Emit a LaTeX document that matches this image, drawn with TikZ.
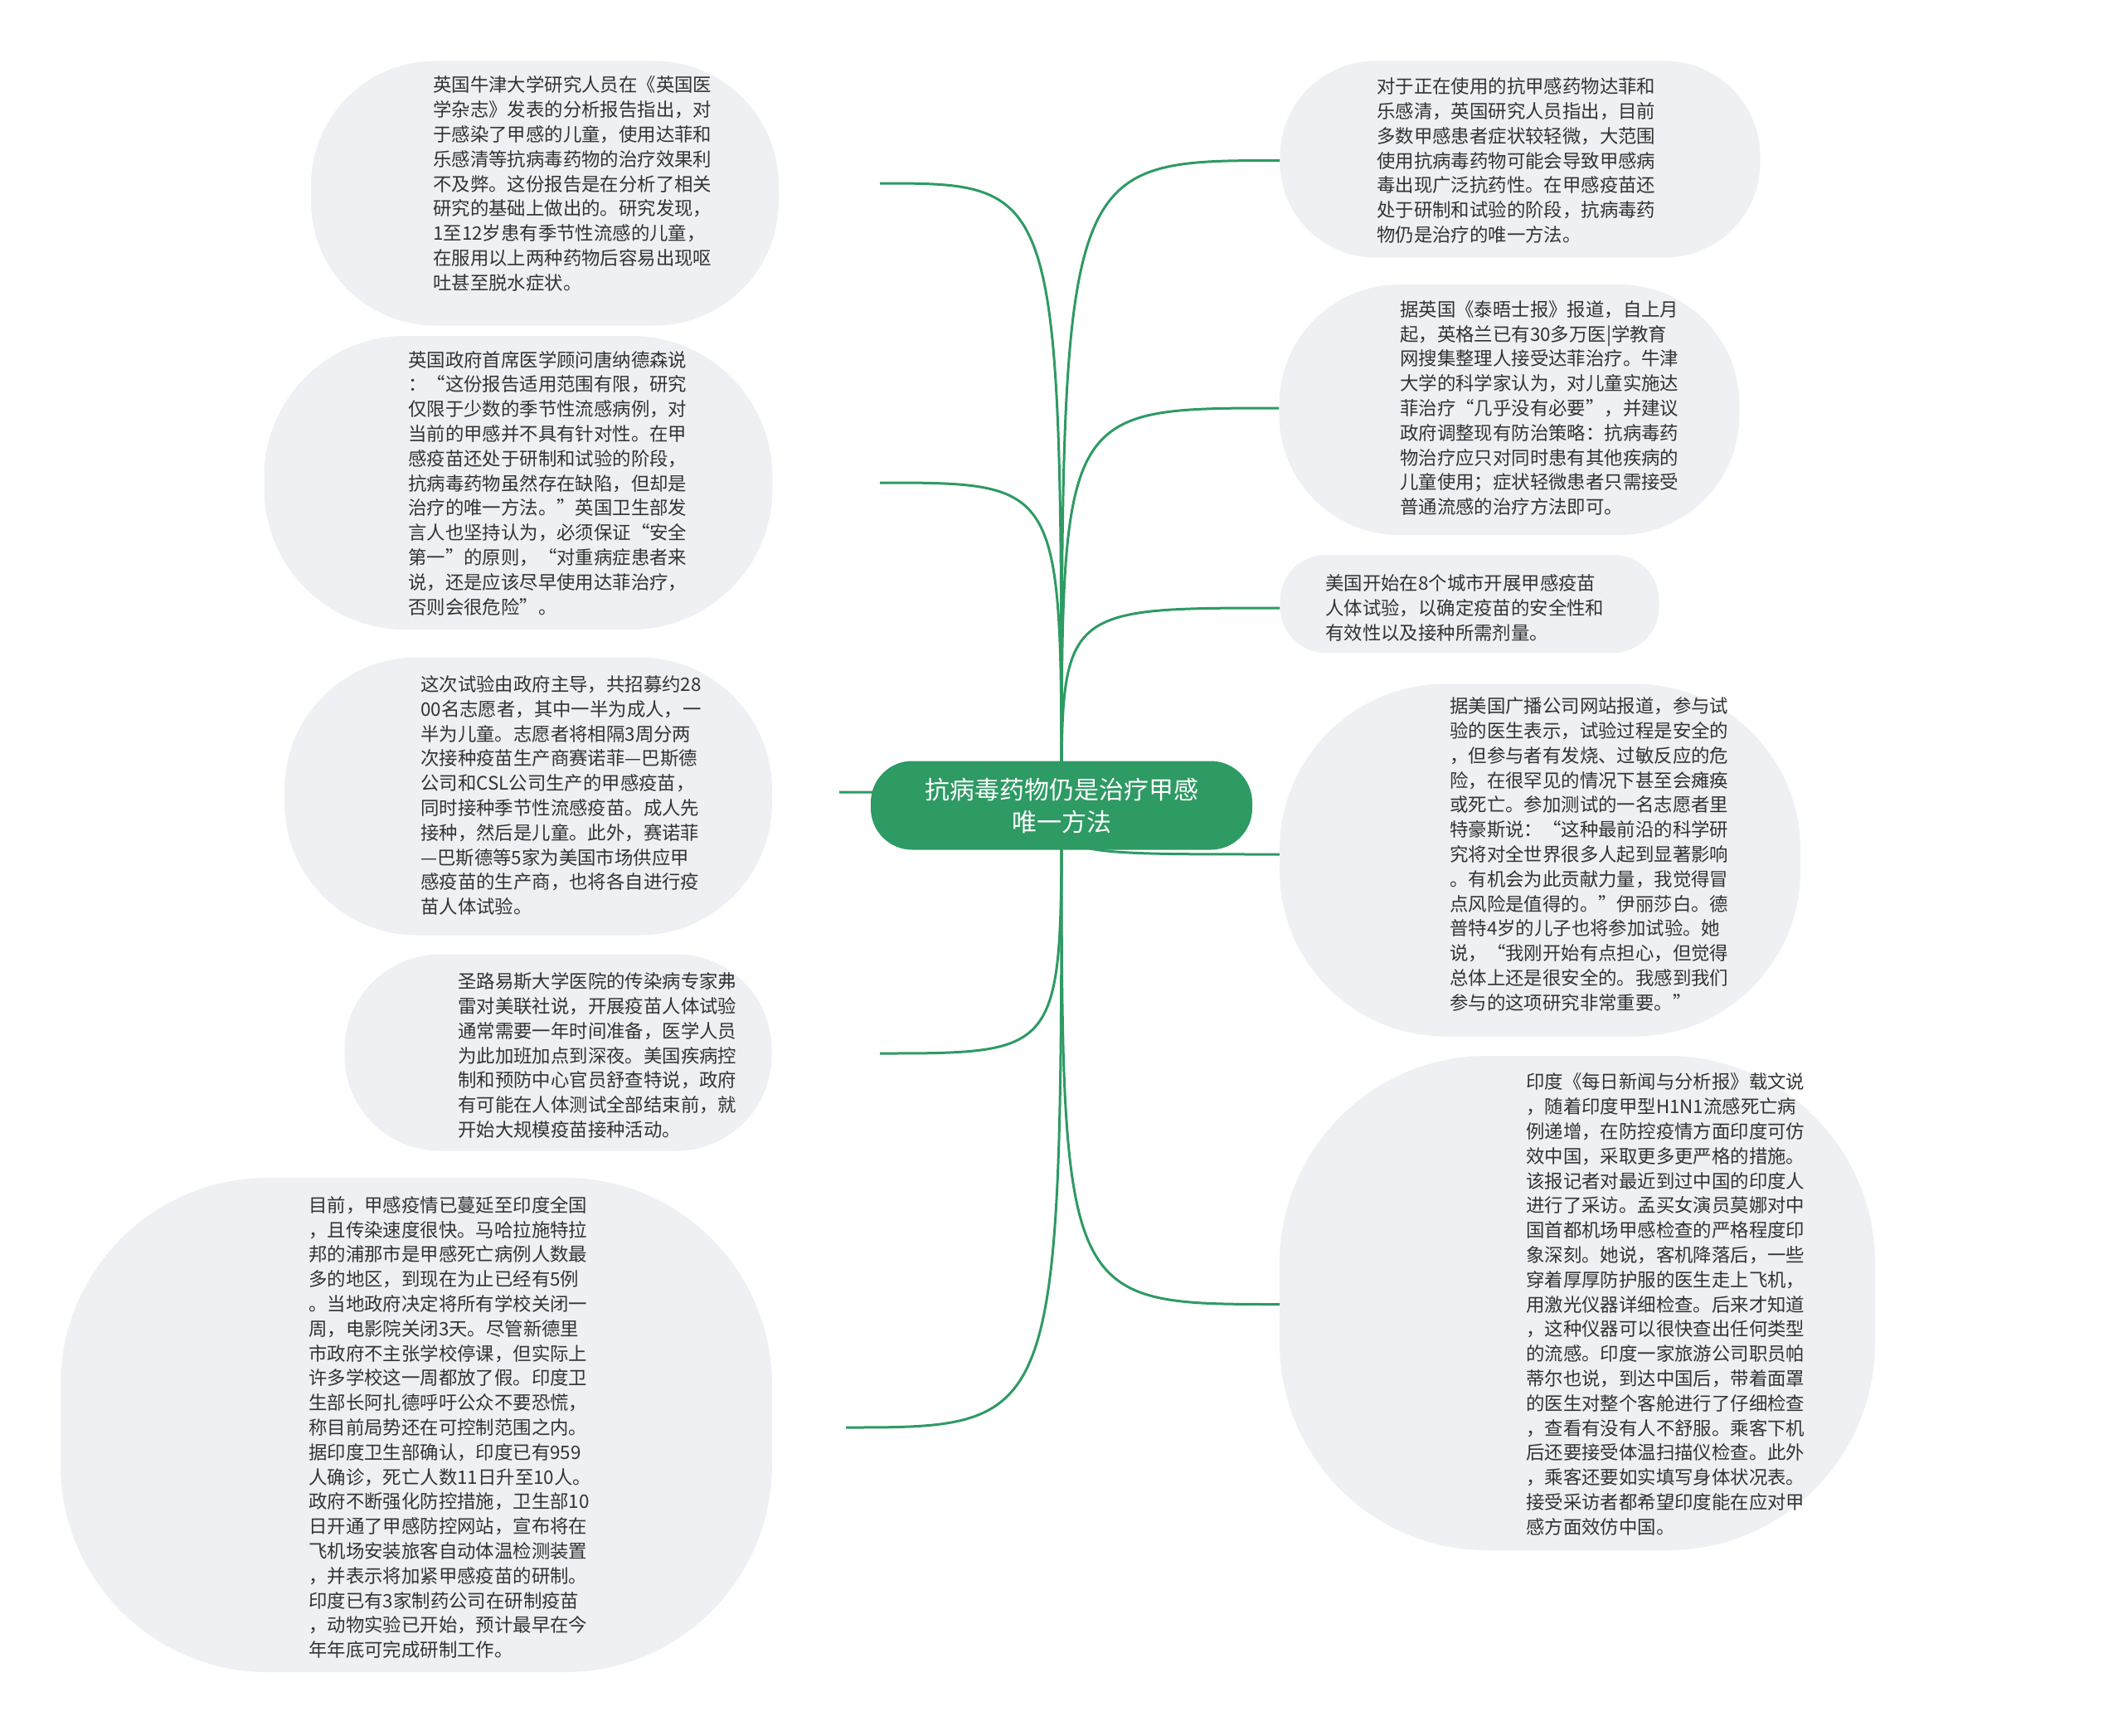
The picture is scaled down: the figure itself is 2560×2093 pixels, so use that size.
\documentclass[tikz,border=0pt]{standalone}
\usepackage{fontspec}
\setmainfont{Noto Sans CJK SC}
\usetikzlibrary{backgrounds}
\definecolor{rootgreen}{HTML}{2E9A64}
\definecolor{leafgray}{HTML}{EEF0F3}
\definecolor{leaftext}{HTML}{333333}
\tikzset{
	root/.style={fill=rootgreen, text=white, rounded corners=50pt, minimum width=460pt, minimum height=107pt, align=center, font=\fontsize{30}{39}\selectfont},
	leaf/.style={fill=leafgray, inner sep=0pt},
	leaftext/.style={anchor=west, text=leaftext, align=left, inner sep=0pt, font=\fontsize{22.4}{29.8}\selectfont},
	link/.style={draw=rootgreen, line width=3pt},
}
\begin{document}
\begin{tikzpicture}[x=1pt,y=-1pt]
	\useasboundingbox (0,0) rectangle (2560,2093);
	\node[root] (root) at (1280,971) {抗病毒药物仍是治疗甲感\\唯一方法};
	
	% left side
	\node[leaf, minimum width=564pt, minimum height=319pt, rounded corners=150pt] (L1) at (657,233) {};
	\node[leaftext] (L1t) at (522,221.5) {英国牛津大学研究人员在《英国医\\学杂志》发表的分析报告指出，对\\于感染了甲感的儿童，使用达菲和\\乐感清等抗病毒药物的治疗效果利\\不及弊。这份报告是在分析了相关\\研究的基础上做出的。研究发现，\\1至12岁患有季节性流感的儿童，\\在服用以上两种药物后容易出现呕\\吐甚至脱水症状。};
	\node[leaf, minimum width=613pt, minimum height=354pt, rounded corners=170pt] (L2) at (625,582) {};
	\node[leaftext] (L2t) at (492,582.5) {英国政府首席医学顾问唐纳德森说\\：“这份报告适用范围有限，研究\\仅限于少数的季节性流感病例，对\\当前的甲感并不具有针对性。在甲\\感疫苗还处于研制和试验的阶段，\\抗病毒药物虽然存在缺陷，但却是\\治疗的唯一方法。”英国卫生部发\\言人也坚持认为，必须保证“安全\\第一”的原则，“对重病症患者来\\说，还是应该尽早使用达菲治疗，\\否则会很危险”。};
	\node[leaf, minimum width=588pt, minimum height=335pt, rounded corners=160pt] (L3) at (637,960) {};
	\node[leaftext] (L3t) at (507,959) {这次试验由政府主导，共招募约28\\00名志愿者，其中一半为成人，一\\半为儿童。志愿者将相隔3周分两\\次接种疫苗生产商赛诺菲—巴斯德\\公司和CSL公司生产的甲感疫苗，\\同时接种季节性流感疫苗。成人先\\接种，然后是儿童。此外，赛诺菲\\—巴斯德等5家为美国市场供应甲\\感疫苗的生产商，也将各自进行疫\\苗人体试验。};
	\node[leaf, minimum width=515pt, minimum height=237pt, rounded corners=115pt] (L4) at (673,1269) {};
	\node[leaftext] (L4t) at (552,1272.5) {圣路易斯大学医院的传染病专家弗\\雷对美联社说，开展疫苗人体试验\\通常需要一年时间准备，医学人员\\为此加班加点到深夜。美国疾病控\\制和预防中心官员舒查特说，政府\\有可能在人体测试全部结束前，就\\开始大规模疫苗接种活动。};
	\node[leaf, minimum width=858pt, minimum height=596pt, rounded corners=250pt] (L5) at (502,1718) {};
	\node[leaftext] (L5t) at (372,1721) {目前，甲感疫情已蔓延至印度全国\\，且传染速度很快。马哈拉施特拉\\邦的浦那市是甲感死亡病例人数最\\多的地区，到现在为止已经有5例\\。当地政府决定将所有学校关闭一\\周，电影院关闭3天。尽管新德里\\市政府不主张学校停课，但实际上\\许多学校这一周都放了假。印度卫\\生部长阿扎德呼吁公众不要恐慌，\\称目前局势还在可控制范围之内。\\据印度卫生部确认，印度已有959\\人确诊，死亡人数11日升至10人。\\政府不断强化防控措施，卫生部10\\日开通了甲感防控网站，宣布将在\\飞机场安装旅客自动体温检测装置\\，并表示将加紧甲感疫苗的研制。\\印度已有3家制药公司在研制疫苗\\，动物实验已开始，预计最早在今\\年年底可完成研制工作。};
	
	% right side
	\node[leaf, minimum width=579pt, minimum height=237pt, rounded corners=115pt] (R1) at (1833,192) {};
	\node[leaftext] (R1t) at (1660,193.5) {对于正在使用的抗甲感药物达菲和\\乐感清，英国研究人员指出，目前\\多数甲感患者症状较轻微，大范围\\使用抗病毒药物可能会导致甲感病\\毒出现广泛抗药性。在甲感疫苗还\\处于研制和试验的阶段，抗病毒药\\物仍是治疗的唯一方法。};
	\node[leaf, minimum width=555pt, minimum height=302pt, rounded corners=145pt] (R2) at (1820,494) {};
	\node[leaftext] (R2t) at (1688,492) {据英国《泰晤士报》报道，自上月\\起，英格兰已有30多万医|学教育\\网搜集整理人接受达菲治疗。牛津\\大学的科学家认为，对儿童实施达\\菲治疗“几乎没有必要”，并建议\\政府调整现有防治策略：抗病毒药\\物治疗应只对同时患有其他疾病的\\儿童使用；症状轻微患者只需接受\\普通流感的治疗方法即可。};
	\node[leaf, minimum width=457pt, minimum height=118pt, rounded corners=55pt] (R3) at (1772,728) {};
	\node[leaftext] (R3t) at (1598,733) {美国开始在8个城市开展甲感疫苗\\人体试验，以确定疫苗的安全性和\\有效性以及接种所需剂量。};
	\node[leaf, minimum width=628pt, minimum height=425pt, rounded corners=200pt] (R4) at (1857,1037) {};
	\node[leaftext] (R4t) at (1748,1030) {据美国广播公司网站报道，参与试\\验的医生表示，试验过程是安全的\\，但参与者有发烧、过敏反应的危\\险，在很罕见的情况下甚至会瘫痪\\或死亡。参加测试的一名志愿者里\\特豪斯说：“这种最前沿的科学研\\究将对全世界很多人起到显著影响\\。有机会为此贡献力量，我觉得冒\\点风险是值得的。”伊丽莎白。德\\普特4岁的儿子也将参加试验。她\\说，“我刚开始有点担心，但觉得\\总体上还是很安全的。我感到我们\\参与的这项研究非常重要。”};
	\node[leaf, minimum width=718pt, minimum height=596pt, rounded corners=250pt] (R5) at (1902,1571) {};
	\node[leaftext] (R5t) at (1840,1572.5) {印度《每日新闻与分析报》载文说\\，随着印度甲型H1N1流感死亡病\\例递增，在防控疫情方面印度可仿\\效中国，采取更多更严格的措施。\\该报记者对最近到过中国的印度人\\进行了采访。孟买女演员莫娜对中\\国首都机场甲感检查的严格程度印\\象深刻。她说，客机降落后，一些\\穿着厚厚防护服的医生走上飞机，\\用激光仪器详细检查。后来才知道\\，这种仪器可以很快查出任何类型\\的流感。印度一家旅游公司职员帕\\蒂尔也说，到达中国后，带着面罩\\的医生对整个客舱进行了仔细检查\\，查看有没有人不舒服。乘客下机\\后还要接受体温扫描仪检查。此外\\，乘客还要如实填写身体状况表。\\接受采访者都希望印度能在应对甲\\感方面效仿中国。};
	
	% free ends of the left links
	\coordinate (L1e) at (1061,221);
	\coordinate (L2e) at (1061,582);
	\coordinate (L3e) at (1012,955);
	\coordinate (L4e) at (1061,1270);
	\coordinate (L5e) at (1020,1721);
	
	\begin{scope}[on background layer]
		\fill[white] (0,0) rectangle (2560,2093);
		\foreach \n in {L1,L2,L3,L4,L5}
			\draw[link] (root.center) .. controls (root.center |- \n e) .. (\n e);
		\foreach \n in {R1,R2,R3,R4,R5}
			\draw[link] (root.center) .. controls (root.center |- \n t) .. (\n.west |- \n t);
	\end{scope}
\end{tikzpicture}
\end{document}
